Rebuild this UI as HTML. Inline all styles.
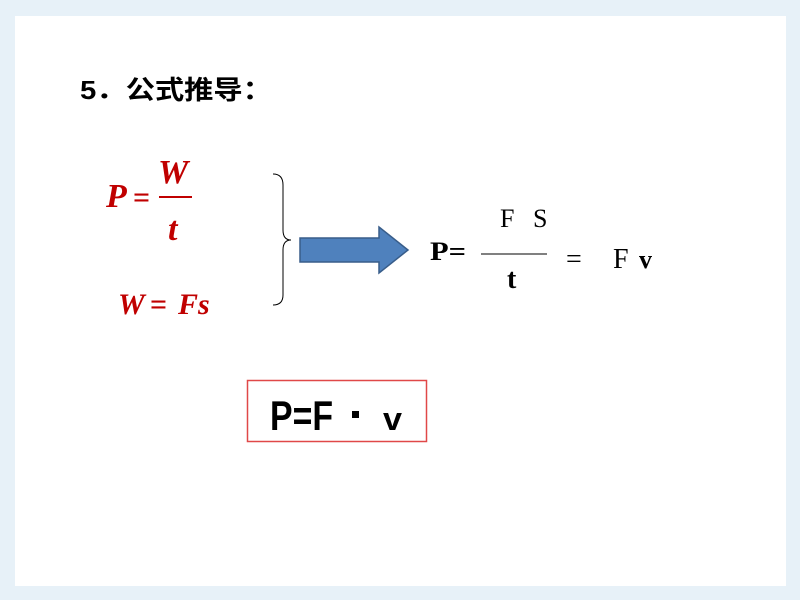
<!DOCTYPE html>
<html><head><meta charset="utf-8"><style>
html,body{margin:0;padding:0;background:#e6f0f8;}
svg{display:block}
</style></head><body>
<svg width="800" height="600" xmlns="http://www.w3.org/2000/svg">
<rect x="0" y="0" width="800" height="600" fill="#e7f1f8"/>
<rect x="15" y="16" width="771" height="570" fill="#ffffff"/>
<text x="80" y="99" font-family="Liberation Sans, 'Noto Sans CJK SC', sans-serif" font-size="26" font-weight="bold" fill="#000" textLength="192" lengthAdjust="spacingAndGlyphs">5．公式推导：</text>
<g font-family="Liberation Serif, serif" font-style="italic" font-weight="bold" fill="#c00000">
<text x="106" y="207" font-size="34">P</text>
<text x="133" y="207" font-size="30" font-style="normal">=</text>
<text x="158" y="183" font-size="34">W</text>
<line x1="159" y1="197" x2="192" y2="197" stroke="#c00000" stroke-width="2"/>
<text x="168" y="240" font-size="34">t</text>
<text x="118" y="314" font-size="30">W</text>
<text x="150" y="314" font-size="30" font-style="normal">=</text>
<text x="178" y="314" font-size="30">Fs</text>
</g>
<path d="M273 174 Q283 174 283 185 L283 230 Q283 240 291 240 Q283 240 283 250 L283 295 Q283 305 273 305" fill="none" stroke="#000" stroke-width="1"/>
<path d="M300 238 L379 238 L379 227 L408 250 L379 273 L379 262 L300 262 Z" fill="#4f81bd" stroke="#385d8a" stroke-width="1.5"/>
<g font-family="Liberation Serif, serif" fill="#000">
<text x="430" y="260" font-size="26" font-weight="bold" textLength="36" lengthAdjust="spacingAndGlyphs">P=</text>
<text x="500" y="227" font-size="26">F</text>
<text x="533" y="227" font-size="26">S</text>
<line x1="481" y1="254" x2="547" y2="254" stroke="#000" stroke-width="1"/>
<text x="507" y="288" font-size="28" font-weight="bold">t</text>
<text x="566" y="268" font-size="28">=</text>
<text x="613" y="268" font-size="28">F</text>
<text x="639" y="268" font-size="26" font-weight="bold">v</text>
</g>
<rect x="247.5" y="380.5" width="179" height="61" fill="none" stroke="#e04848" stroke-width="1.5"/>
<text x="270" y="430" font-family="Liberation Sans, sans-serif" font-size="42" font-weight="bold" fill="#000" textLength="63" lengthAdjust="spacingAndGlyphs">P=F</text>
<rect x="352" y="411" width="7" height="7" fill="#000"/>
<text x="383" y="430" font-family="Liberation Sans, sans-serif" font-size="32" font-weight="bold" fill="#000" textLength="19" lengthAdjust="spacingAndGlyphs">v</text>
</svg>
</body></html>
